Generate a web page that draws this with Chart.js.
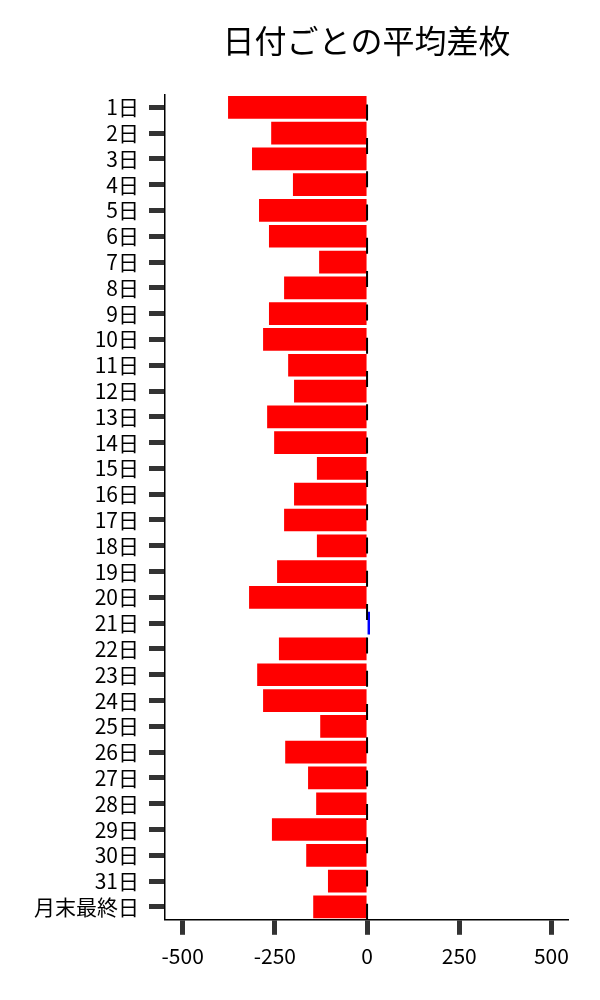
<!DOCTYPE html>
<html>
<head>
<meta charset="utf-8">
<script src="https://cdn.jsdelivr.net/npm/chart.js@4.4.1/dist/chart.umd.min.js"></script>
<style>
html,body{margin:0;padding:0;background:#fff;}
canvas{display:block;}
</style>
</head>
<body>
<canvas id="c" width="600" height="1000"></canvas>
<script>
const chartTitle = '日付ごとの平均差枚';
const days = ['1日','2日','3日','4日','5日','6日','7日','8日','9日','10日',
  '11日','12日','13日','14日','15日','16日','17日','18日','19日','20日',
  '21日','22日','23日','24日','25日','26日','27日','28日','29日','30日','31日','月末最終日'];
const avgDiff = [-377,-260,-312,-201,-293,-266,-130,-225,-266,-282,
  -214,-198,-271,-252,-136,-198,-225,-136,-244,-320,
  8,-239,-298,-282,-127,-222,-160,-138,-258,-165,-106,-146];
const xTicks = [-500,-250,0,250,500];
const xMin = -548, xMax = 545;
const zeroLine = 0;

const FONT = "'Noto Sans CJK JP', 'Noto Sans', sans-serif";

const zeroLinePlugin = {
  id: 'zeroLine',
  afterDatasetsDraw(chart) {
    const {ctx, chartArea, scales} = chart;
    const px = scales.x.getPixelForValue(zeroLine);
    ctx.save();
    ctx.strokeStyle = '#000';
    ctx.lineWidth = 2;
    ctx.setLineDash([16, 17.3]);
    ctx.beginPath();
    ctx.moveTo(px, chartArea.bottom);
    ctx.lineTo(px, chartArea.top);
    ctx.stroke();
    ctx.restore();
  }
};

new Chart(document.getElementById('c'), {
  type: 'bar',
  data: {
    labels: days,
    datasets: [{
      data: avgDiff,
      backgroundColor: avgDiff.map(v => v < 0 ? '#ff0000' : '#0000ff'),
      borderWidth: 0,
      barPercentage: 0.88,
      categoryPercentage: 1
    }]
  },
  options: {
    indexAxis: 'y',
    responsive: false,
    animation: false,
    devicePixelRatio: 1,
    layout: {padding: {left: 0, right: 32, top: 0, bottom: 22}},
    plugins: {
      legend: {display: false},
      tooltip: {enabled: false},
      title: {
        display: true,
        text: chartTitle,
        fullSize: false,
        color: '#000',
        font: {family: FONT, size: 32, weight: 'normal'},
        padding: {top: 22, bottom: 34}
      }
    },
    scales: {
      x: {
        type: 'linear',
        min: xMin,
        max: xMax,
        afterBuildTicks: s => { s.ticks = xTicks.map(v => ({value: v})); },
        ticks: {color: '#000', font: {family: FONT, size: 21}, padding: 9, maxRotation: 0, autoSkip: false},
        grid: {display: true, drawOnChartArea: false, drawTicks: true, tickLength: 15, tickWidth: 5, tickColor: '#333'},
        border: {display: true, color: '#000', width: 1.5}
      },
      y: {
        ticks: {color: '#000', font: {family: FONT, size: 21}, padding: 10, autoSkip: false},
        grid: {display: true, offset: false, drawOnChartArea: false, drawTicks: true, tickLength: 16, tickWidth: 5, tickColor: '#333'},
        border: {display: true, color: '#000', width: 1.5},
        afterFit: s => { s.width = 165; }
      }
    }
  },
  plugins: [zeroLinePlugin]
});
</script>
</body>
</html>
